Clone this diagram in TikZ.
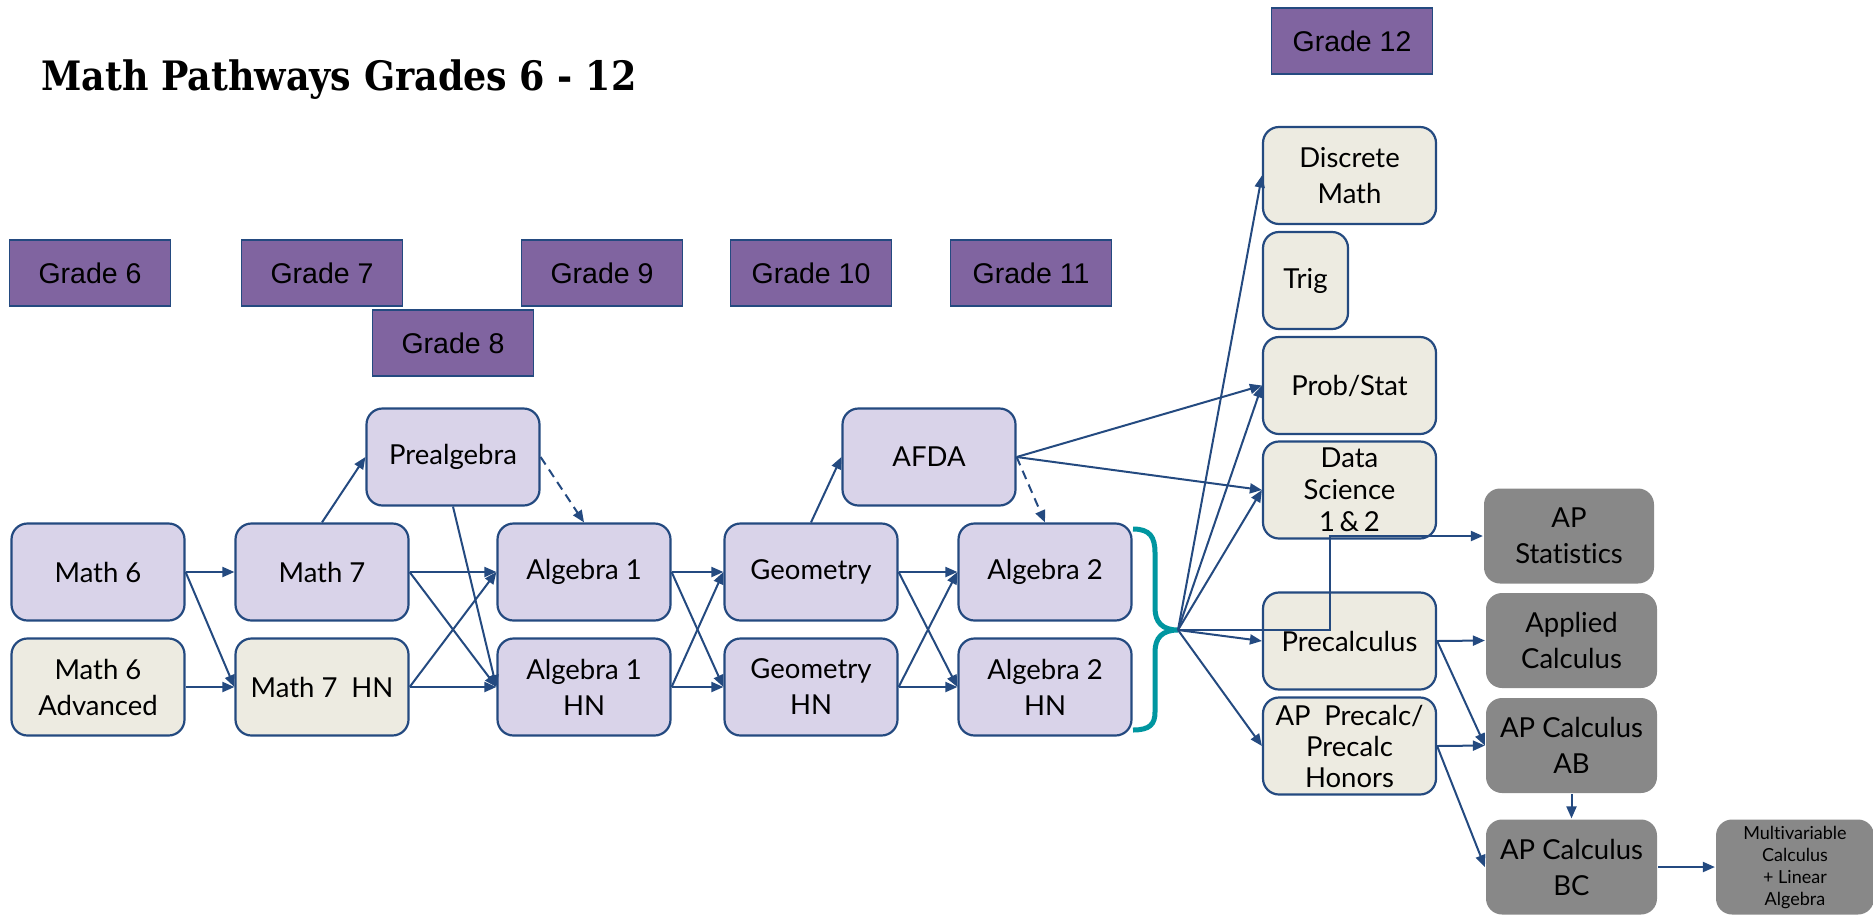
\documentclass[tikz,border=0pt]{standalone}
\usepackage{fontspec}
\usepackage{tikz}
\usetikzlibrary{arrows.meta}
\setmainfont{Lato}[Ligatures=NoCommon]
\newfontfamily\gradefont{Liberation Sans}
\newfontfamily\titlefont{DejaVu Serif Condensed}

\definecolor{edgeblue}{RGB}{36,74,128}
\definecolor{lavender}{RGB}{217,211,233}
\definecolor{beige}{RGB}{237,235,225}
\definecolor{gradepurple}{RGB}{128,100,160}
\definecolor{apgray}{RGB}{136,136,136}
\definecolor{braceteal}{RGB}{0,150,160}

\begin{document}
\begin{tikzpicture}[x=1pt, y=-1pt, >={Triangle[length=12pt,width=10pt]},
  course/.style={draw=edgeblue, line width=2.2pt, rounded corners=16pt, minimum width=173pt, minimum height=97pt,
    inner sep=0pt, align=center, font=\fontsize{27.5}{36}\selectfont},
  lav/.style={course, fill=lavender},
  opt/.style={course, fill=beige},
  ap/.style={course, draw=none, fill=apgray, minimum width=171pt, minimum height=95pt, text=black},
  grade/.style={draw=edgeblue, line width=1.6pt, fill=gradepurple, minimum width=161pt, minimum height=66pt,
    font=\gradefont\fontsize{28.5}{34}\selectfont},
  link/.style={->, edgeblue, line width=2pt},
  maybe/.style={link, dash pattern=on 9pt off 6pt}]
  \useasboundingbox (0,0) rectangle (1873,914);
  \node[anchor=base west, font=\titlefont\bfseries\fontsize{40.5}{46}\selectfont] (title) at (38,90) {Math Pathways Grades 6 - 12};
  % grade labels
  \node[grade] (g6) at (90,273) {Grade 6};
  \node[grade] (g7) at (322,273) {Grade 7};
  \node[grade] (g8) at (453,343) {Grade 8};
  \node[grade] (g9) at (602,273) {Grade 9};
  \node[grade] (g10) at (811,273) {Grade 10};
  \node[grade] (g11) at (1031,273) {Grade 11};
  \node[grade] (g12) at (1352,41) {Grade 12};
  % grades 6 - 11
  \node[lav] (math6) at (98,572) {Math 6};
  \node[opt] (math6a) at (98,687) {Math 6\\Advanced};
  \node[lav] (math7) at (322,572) {Math 7};
  \node[opt] (math7hn) at (322,687) {Math 7\enspace HN};
  \node[lav] (prealg) at (453,457) {Prealgebra};
  \node[lav] (alg1) at (584,572) {Algebra 1};
  \node[lav] (alg1hn) at (584,687) {Algebra 1\\HN};
  \node[lav] (geom) at (811,572) {Geometry};
  \node[lav] (geomhn) at (811,687) {Geometry\\HN};
  \node[lav] (afda) at (929,457) {AFDA};
  \node[lav] (alg2) at (1045,572) {Algebra 2};
  \node[lav] (alg2hn) at (1045,687) {Algebra 2\\HN};
  % grade 12
  \node[opt] (discrete) at (1349.5,175.5) {Discrete\\Math};
  \node[opt, minimum width=85pt] (trig) at (1305.5,280.5) {Trig};
  \node[opt] (probstat) at (1349.5,385.5) {Prob/Stat};
  \node[opt, font=\fontsize{27.5}{32}\selectfont] (datasci) at (1349.5,490) {Data\\Science\\1\,\&\,2};
  \node[opt] (precalc) at (1349.5,641) {Precalculus};
  \node[opt, font=\fontsize{27.5}{31}\selectfont] (apprecalc) at (1349.5,746) {AP\enspace Precalc/\\Precalc\\Honors};
  \node[ap, minimum width=170pt] (apstat) at (1569,536) {AP\\Statistics};
  \node[ap] (applied) at (1571.5,640.5) {Applied\\Calculus};
  \node[ap] (apcalcab) at (1571.5,745.5) {AP Calculus\\AB};
  \node[ap] (apcalcbc) at (1571.5,867) {AP Calculus\\BC};
  \node[ap, minimum width=158pt, font=\fontsize{18}{22}\selectfont] (multi) at (1795,867) {Multivariable\\Calculus\\+ Linear\\Algebra};

  \draw[link] (math6.east) -- (math7.west);
  \draw[link] (math6.east) -- (math7hn.west);
  \draw[link] (math6a.east) -- (math7hn.west);
  \draw[link] (math7.north) -- (prealg.west);
  \draw[link] (math7.east) -- (alg1.west);
  \draw[link] (math7.east) -- (alg1hn.west);
  \draw[link] (math7hn.east) -- (alg1.west);
  \draw[link] (math7hn.east) -- (alg1hn.west);
  \draw[maybe] (prealg.east) -- (alg1.north);
  \draw[link] (prealg.south) -- (alg1hn.west);
  \draw[link] (alg1.east) -- (geom.west);
  \draw[link] (alg1.east) -- (geomhn.west);
  \draw[link] (alg1hn.east) -- (geom.west);
  \draw[link] (alg1hn.east) -- (geomhn.west);
  \draw[link] (geom.north) -- (afda.west);
  \draw[link] (geom.east) -- (alg2.west);
  \draw[link] (geom.east) -- (alg2hn.west);
  \draw[link] (geomhn.east) -- (alg2.west);
  \draw[link] (geomhn.east) -- (alg2hn.west);
  \draw[maybe] (afda.east) -- (alg2.north);
  \draw[link] (afda.east) -- (probstat.west);
  \draw[link] (afda.east) -- (datasci.west);

  % brace after algebra 2
  \coordinate (tip) at (1178,630);
  \coordinate (statbend) at (1330,630);
  \draw[braceteal, line width=5pt] (1133,529) .. controls (1150,529) and (1155,537) .. (1155,553) -- (1155,608)
    .. controls (1155,622) and (1162,630) .. (tip) .. controls (1162,630) and (1155,638) .. (1155,652) -- (1155,712)
    .. controls (1155,724) and (1150,730) .. (1133,730);
  \draw[link] (tip) -- (discrete.west);
  \draw[link] (tip) -- (probstat.west);
  \draw[link] (tip) -- (datasci.west);
  \draw[link] (tip) -- (precalc.west);
  \draw[link] (tip) -- (apprecalc.west);
  \draw[link] (tip) -- (statbend) |- (apstat.west);

  \draw[link] (precalc.east) -- (applied.west);
  \draw[link] (precalc.east) -- (apcalcab.west);
  \draw[link] (apprecalc.east) -- (apcalcab.west);
  \draw[link] (apprecalc.east) -- (apcalcbc.west);
  \draw[link] (apcalcab.south) -- (apcalcbc.north);
  \draw[link] (apcalcbc.east) -- (multi.west);
\end{tikzpicture}
\end{document}
